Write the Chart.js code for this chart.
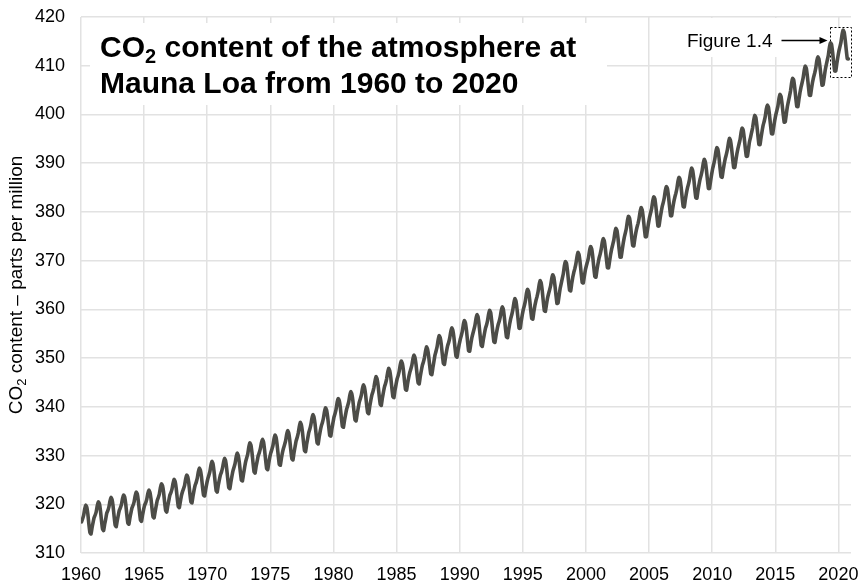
<!DOCTYPE html>
<html>
<head>
<meta charset="utf-8">
<title>CO2 at Mauna Loa 1960-2020</title>
<script src="https://cdn.jsdelivr.net/npm/chart.js@4"></script>
<style>
  html, body { margin: 0; padding: 0; background: #ffffff; }
  canvas { display: block; }
</style>
</head>
<body>
<canvas id="chart" width="863" height="583"></canvas>
<script>
// Monthly mean CO2 at Mauna Loa, ppm (one row per year, Jan..Dec)
const years = [
  1960, 1961, 1962, 1963, 1964, 1965, 1966, 1967, 1968, 1969,
  1970, 1971, 1972, 1973, 1974, 1975, 1976, 1977, 1978, 1979,
  1980, 1981, 1982, 1983, 1984, 1985, 1986, 1987, 1988, 1989,
  1990, 1991, 1992, 1993, 1994, 1995, 1996, 1997, 1998, 1999,
  2000, 2001, 2002, 2003, 2004, 2005, 2006, 2007, 2008, 2009,
  2010, 2011, 2012, 2013, 2014, 2015, 2016, 2017, 2018, 2019,
  2020
];

const monthlyPpm = [
  [316.4, 317.0, 317.7, 319.0, 319.8, 319.4, 318.0, 315.9, 314.2, 313.9, 315.2, 316.3],
  [317.3, 317.8, 318.5, 319.7, 320.5, 320.1, 318.7, 316.6, 314.9, 314.6, 315.9, 317.0],
  [318.2, 318.7, 319.4, 320.6, 321.4, 321.0, 319.6, 317.5, 315.7, 315.4, 316.7, 317.8],
  [318.8, 319.3, 320.0, 321.2, 321.9, 321.5, 320.1, 318.0, 316.2, 315.9, 317.2, 318.3],
  [319.3, 319.8, 320.5, 321.7, 322.5, 322.1, 320.7, 318.6, 316.8, 316.5, 317.8, 318.9],
  [319.8, 320.3, 321.0, 322.2, 322.9, 322.5, 321.2, 319.1, 317.4, 317.2, 318.5, 319.7],
  [320.8, 321.4, 322.1, 323.4, 324.2, 323.8, 322.5, 320.4, 318.7, 318.4, 319.7, 320.8],
  [321.9, 322.4, 323.1, 324.3, 325.1, 324.7, 323.3, 321.2, 319.5, 319.3, 320.6, 321.8],
  [322.6, 323.2, 323.9, 325.2, 326.0, 325.6, 324.3, 322.2, 320.5, 320.3, 321.7, 322.9],
  [323.9, 324.5, 325.3, 326.6, 327.4, 327.0, 325.7, 323.6, 321.9, 321.7, 323.0, 324.2],
  [325.2, 325.9, 326.7, 328.0, 328.8, 328.3, 326.7, 324.6, 322.8, 322.5, 323.9, 325.0],
  [326.0, 326.6, 327.4, 328.6, 329.4, 328.9, 327.3, 325.2, 323.4, 323.2, 324.6, 325.8],
  [326.9, 327.6, 328.4, 329.7, 330.5, 330.0, 328.6, 326.6, 324.9, 324.8, 326.2, 327.5],
  [328.7, 329.5, 330.3, 331.7, 332.6, 332.2, 330.7, 328.6, 326.7, 326.4, 327.8, 328.9],
  [330.0, 330.6, 331.4, 332.6, 333.3, 332.8, 331.2, 329.1, 327.3, 327.1, 328.5, 329.7],
  [330.6, 331.3, 332.1, 333.4, 334.2, 333.7, 332.1, 330.0, 328.2, 328.0, 329.4, 330.6],
  [331.5, 332.2, 333.0, 334.3, 335.1, 334.6, 333.1, 331.0, 329.3, 329.1, 330.6, 331.8],
  [333.0, 333.7, 334.6, 335.9, 336.8, 336.3, 334.9, 332.8, 331.0, 330.8, 332.3, 333.5],
  [334.7, 335.4, 336.3, 337.6, 338.4, 337.9, 336.5, 334.4, 332.6, 332.4, 333.9, 335.1],
  [336.1, 336.8, 337.7, 339.0, 339.8, 339.3, 337.9, 335.9, 334.1, 334.0, 335.5, 336.7],
  [337.9, 338.6, 339.5, 340.9, 341.7, 341.3, 339.9, 337.8, 336.0, 335.8, 337.2, 338.4],
  [339.5, 340.2, 341.0, 342.3, 343.1, 342.6, 341.2, 339.1, 337.3, 337.1, 338.5, 339.7],
  [340.9, 341.6, 342.4, 343.7, 344.5, 344.0, 342.6, 340.5, 338.8, 338.6, 340.1, 341.3],
  [342.4, 343.1, 344.0, 345.3, 346.2, 345.7, 344.3, 342.2, 340.5, 340.3, 341.8, 343.0],
  [344.1, 344.8, 345.7, 347.0, 347.9, 347.4, 346.0, 343.9, 342.1, 341.9, 343.4, 344.6],
  [345.7, 346.4, 347.3, 348.6, 349.4, 348.9, 347.5, 345.4, 343.6, 343.4, 344.8, 346.0],
  [347.0, 347.7, 348.5, 349.8, 350.6, 350.1, 348.7, 346.6, 344.9, 344.7, 346.2, 347.4],
  [348.5, 349.2, 350.1, 351.4, 352.3, 351.8, 350.4, 348.4, 346.7, 346.6, 348.0, 349.3],
  [350.6, 351.4, 352.3, 353.7, 354.6, 354.2, 352.8, 350.7, 348.9, 348.7, 350.2, 351.4],
  [352.5, 353.2, 354.1, 355.4, 356.2, 355.7, 354.3, 352.2, 350.4, 350.2, 351.6, 352.8],
  [353.8, 354.6, 355.5, 356.9, 357.7, 357.2, 355.6, 353.4, 351.5, 351.4, 352.8, 354.1],
  [355.0, 355.8, 356.7, 358.1, 358.9, 358.4, 356.7, 354.5, 352.6, 352.4, 353.8, 355.0],
  [356.1, 356.8, 357.7, 359.0, 359.8, 359.3, 357.5, 355.3, 353.4, 353.2, 354.6, 355.8],
  [356.8, 357.5, 358.4, 359.7, 360.5, 360.0, 358.3, 356.1, 354.3, 354.2, 355.7, 357.0],
  [358.1, 358.9, 359.9, 361.3, 362.2, 361.7, 360.1, 358.0, 356.1, 356.1, 357.6, 358.9],
  [360.0, 360.8, 361.8, 363.3, 364.1, 363.7, 362.1, 359.9, 358.1, 358.0, 359.5, 360.8],
  [361.8, 362.6, 363.6, 365.0, 365.9, 365.4, 363.8, 361.6, 359.7, 359.6, 361.0, 362.3],
  [363.2, 364.0, 364.9, 366.3, 367.1, 366.6, 365.0, 363.0, 361.2, 361.3, 362.8, 364.3],
  [365.3, 366.3, 367.3, 368.9, 369.8, 369.5, 367.9, 365.7, 363.9, 363.8, 365.3, 366.6],
  [367.6, 368.4, 369.4, 370.8, 371.7, 371.2, 369.6, 367.4, 365.5, 365.4, 366.8, 368.1],
  [369.0, 369.8, 370.7, 372.1, 372.9, 372.4, 370.8, 368.6, 366.7, 366.6, 368.1, 369.4],
  [370.5, 371.3, 372.3, 373.7, 374.5, 374.0, 372.4, 370.3, 368.5, 368.5, 369.9, 371.3],
  [372.4, 373.3, 374.2, 375.7, 376.6, 376.2, 374.6, 372.5, 370.7, 370.7, 372.2, 373.6],
  [374.8, 375.7, 376.7, 378.2, 379.1, 378.7, 377.1, 374.9, 373.1, 373.0, 374.5, 375.8],
  [376.8, 377.6, 378.6, 380.0, 380.9, 380.4, 378.8, 376.7, 374.9, 374.9, 376.3, 377.7],
  [378.9, 379.8, 380.7, 382.2, 383.1, 382.7, 381.1, 379.0, 377.1, 377.1, 378.6, 379.9],
  [381.1, 381.9, 382.9, 384.4, 385.2, 384.8, 383.2, 381.1, 379.2, 379.2, 380.7, 382.0],
  [383.0, 383.8, 384.8, 386.3, 387.1, 386.7, 385.1, 382.9, 381.1, 381.0, 382.5, 383.8],
  [384.9, 385.7, 386.7, 388.1, 389.0, 388.5, 386.9, 384.7, 382.9, 382.8, 384.3, 385.6],
  [386.7, 387.5, 388.5, 389.9, 390.8, 390.3, 388.7, 386.6, 384.8, 384.8, 386.3, 387.7],
  [388.9, 389.8, 390.8, 392.3, 393.2, 392.8, 391.2, 389.0, 387.2, 387.1, 388.6, 389.9],
  [391.0, 391.8, 392.8, 394.2, 395.1, 394.6, 393.0, 390.9, 389.1, 389.1, 390.5, 391.9],
  [393.0, 393.9, 394.8, 396.3, 397.2, 396.8, 395.2, 393.1, 391.4, 391.4, 392.9, 394.4],
  [395.3, 396.3, 397.3, 398.8, 399.8, 399.4, 397.8, 395.7, 393.8, 393.8, 395.3, 396.6],
  [397.8, 398.6, 399.6, 401.1, 401.9, 401.5, 399.9, 397.8, 396.0, 396.0, 397.4, 398.8],
  [399.9, 400.8, 401.7, 403.2, 404.1, 403.7, 402.1, 400.1, 398.4, 398.5, 400.1, 401.6],
  [402.7, 403.7, 404.8, 406.4, 407.4, 407.1, 405.5, 403.4, 401.6, 401.6, 403.1, 404.5],
  [405.6, 406.5, 407.5, 409.0, 409.9, 409.5, 407.9, 405.8, 403.9, 403.9, 405.4, 406.7],
  [407.7, 408.5, 409.5, 411.0, 411.8, 411.4, 409.8, 407.8, 406.0, 406.1, 407.6, 409.1],
  [410.2, 411.2, 412.2, 413.8, 414.7, 414.4, 412.8, 410.7, 408.9, 408.9, 410.4, 411.8],
  [413.0, 413.9, 414.9, 416.4, 417.3, 416.9, 415.3, 413.2, 411.4, 411.4]
];

// Axis ticks
const xTickYears = [1960, 1965, 1970, 1975, 1980, 1985, 1990, 1995, 2000, 2005, 2010, 2015, 2020];
const yTickPpm = [310, 320, 330, 340, 350, 360, 370, 380, 390, 400, 410, 420];

// Texts
const titleLine1Rest = ' content of the atmosphere at';
const titleLine2 = 'Mauna Loa from 1960 to 2020';
const yTitleRest = ' content \u2013 parts per million';
const figureLabel = 'Figure 1.4';

// Window of the most recent years, outlined with a dashed frame
const recentWindow = { fromYear: 2019.3, low: 407.6, high: 417.9 };

const FONT = "'Liberation Sans', Arial, Helvetica, sans-serif";

// Flatten the table into (decimal year, ppm) points, mid-month
const points = [];
years.forEach((yr, i) => {
  monthlyPpm[i].forEach((v, m) => points.push({ x: yr + (m + 0.5) / 12, y: v }));
});

// Writes "CO" with a subscript 2 followed by the rest of the text; returns total width
function co2Text(ctx, x, y, size, subSize, subDrop, rest, weight, measureOnly) {
  ctx.font = `${weight} ${size}px ${FONT}`;
  const wCO = ctx.measureText('CO').width;
  const wRest = ctx.measureText(rest).width;
  ctx.font = `${weight} ${subSize}px ${FONT}`;
  const wSub = ctx.measureText('2').width;
  if (!measureOnly) {
    ctx.font = `${weight} ${size}px ${FONT}`;
    ctx.fillText('CO', x, y);
    ctx.font = `${weight} ${subSize}px ${FONT}`;
    ctx.fillText('2', x + wCO, y + subDrop);
    ctx.font = `${weight} ${size}px ${FONT}`;
    ctx.fillText(rest, x + wCO + wSub, y);
  }
  return wCO + wSub + wRest;
}

const decorations = {
  id: 'decorations',
  beforeDatasetsDraw(chart) {
    const { ctx, chartArea: ca, scales: { x, y } } = chart;
    ctx.save();
    ctx.textAlign = 'left';
    ctx.textBaseline = 'alphabetic';

    // Title panel
    ctx.fillStyle = '#ffffff';
    ctx.fillRect(ca.left + 9, ca.top + 6, 517, 82);
    ctx.fillStyle = '#000000';
    co2Text(ctx, ca.left + 19, ca.top + 40, 30, 20, 6, titleLine1Rest, 'bold');
    ctx.font = `bold 30px ${FONT}`;
    ctx.fillText(titleLine2, ca.left + 19, ca.top + 76);

    // Dashed frame around the latest years
    const bx0 = Math.round(x.getPixelForValue(recentWindow.fromYear)) + 0.5;
    const bx1 = ca.right + 0.5;
    const by0 = Math.round(y.getPixelForValue(recentWindow.high)) + 0.5;
    const by1 = Math.round(y.getPixelForValue(recentWindow.low)) + 0.5;
    ctx.fillStyle = '#ffffff';
    ctx.fillRect(bx0, by0, bx1 - bx0, by1 - by0);
    ctx.strokeStyle = '#000000';
    ctx.lineWidth = 1;
    ctx.setLineDash([2, 2]);
    ctx.strokeRect(bx0, by0, bx1 - bx0, by1 - by0);
    ctx.setLineDash([]);

    // Label panel with arrow pointing at the frame
    ctx.fillStyle = '#ffffff';
    ctx.fillRect(bx0 - 165, ca.top + 1, 162, 39);
    ctx.fillStyle = '#000000';
    ctx.font = `19px ${FONT}`;
    ctx.textAlign = 'right';
    ctx.fillText(figureLabel, bx0 - 58, ca.top + 30);
    const ay = ca.top + 23.5;
    const tip = bx0 - 3;
    ctx.strokeStyle = '#000000';
    ctx.lineWidth = 1.3;
    ctx.beginPath();
    ctx.moveTo(bx0 - 49, ay);
    ctx.lineTo(tip - 6, ay);
    ctx.stroke();
    ctx.beginPath();
    ctx.moveTo(tip, ay);
    ctx.lineTo(tip - 8, ay - 3.5);
    ctx.lineTo(tip - 8, ay + 3.5);
    ctx.closePath();
    ctx.fill();
    ctx.restore();
  },
  afterDraw(chart) {
    const { ctx, chartArea: ca } = chart;
    ctx.save();
    ctx.fillStyle = '#000000';
    ctx.textBaseline = 'alphabetic';
    ctx.textAlign = 'left';
    const w = co2Text(ctx, 0, 0, 19, 13, 4, yTitleRest, 'normal', true);
    ctx.translate(22, (ca.top + ca.bottom) / 2);
    ctx.rotate(-Math.PI / 2);
    co2Text(ctx, -w / 2, 0, 19, 13, 4, yTitleRest, 'normal');
    ctx.restore();
  }
};

new Chart(document.getElementById('chart'), {
  type: 'line',
  data: {
    datasets: [{
      data: points,
      borderColor: '#4c4c47',
      borderWidth: 3.6,
      pointRadius: 0,
      pointHoverRadius: 0,
      tension: 0.1,
      fill: false,
      borderJoinStyle: 'round',
      borderCapStyle: 'round'
    }]
  },
  options: {
    responsive: false,
    animation: false,
    events: [],
    layout: { padding: { top: 17, right: 12, left: 0, bottom: 0 } },
    plugins: {
      legend: { display: false },
      tooltip: { enabled: false },
      title: { display: false }
    },
    scales: {
      x: {
        type: 'linear',
        min: 1960,
        max: 2021,
        border: { display: false },
        grid: { color: '#e2e2e2', lineWidth: 1.5, drawTicks: false },
        ticks: {
          color: '#000000',
          font: { family: FONT, size: 18 },
          padding: 11,
          maxRotation: 0,
          autoSkip: false,
          callback: v => String(v)
        },
        afterBuildTicks: s => { s.ticks = xTickYears.map(v => ({ value: v })); },
        afterFit: s => { s.height = 30; s.paddingLeft = 0; s.paddingRight = 0; }
      },
      y: {
        min: 310,
        max: 420,
        border: { display: false },
        grid: { color: '#e2e2e2', lineWidth: 1.5, drawTicks: false },
        ticks: {
          color: '#000000',
          font: { family: FONT, size: 18 },
          padding: 16,
          autoSkip: false,
          callback: v => String(v)
        },
        afterBuildTicks: s => { s.ticks = yTickPpm.map(v => ({ value: v })); },
        afterFit: s => { s.width = 81; s.paddingTop = 0; s.paddingBottom = 0; }
      }
    }
  },
  plugins: [decorations]
});
</script>
</body>
</html>
